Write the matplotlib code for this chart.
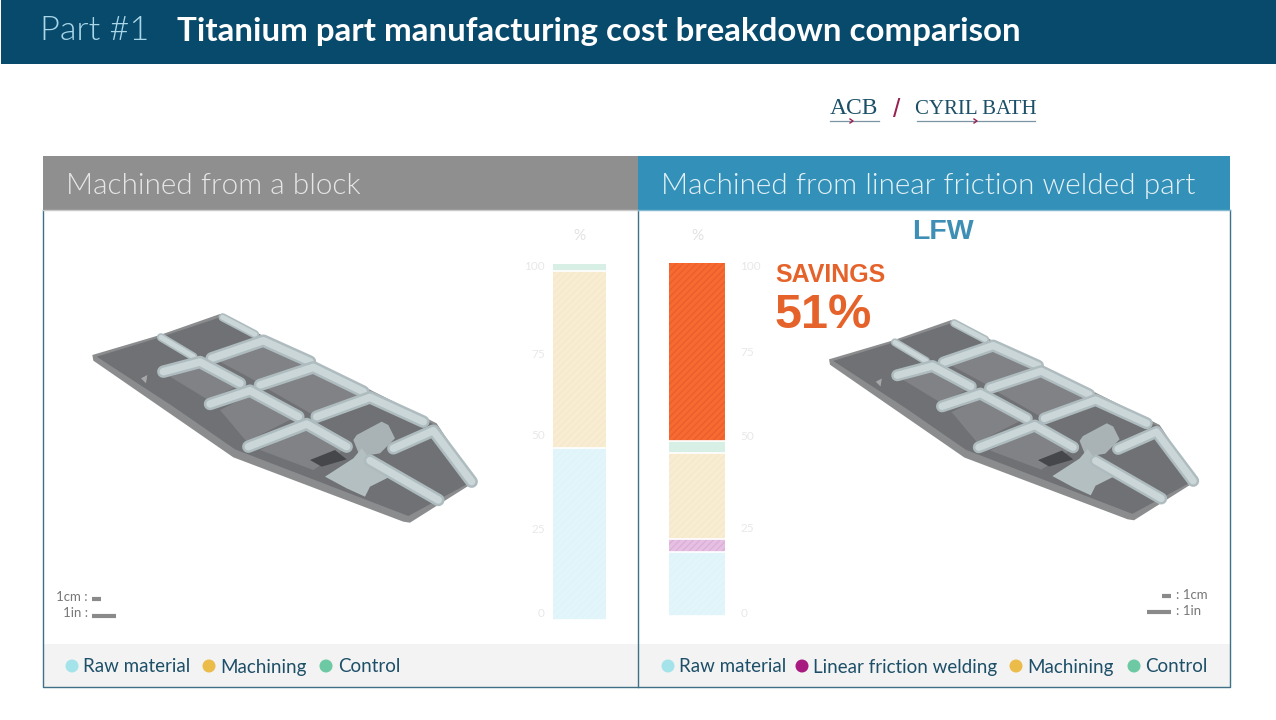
import matplotlib
matplotlib.use('Agg')
import matplotlib.pyplot as plt
from matplotlib.patches import Polygon, Rectangle, Circle

W, H = 1276, 720

# bar values, percent
block_names = ['Raw material', 'Machining', 'Control']
block_values = [48.3, 49.7, 2.0]
block_colors = ['#e1f5fa', '#f8ecd2', '#d8efe6']
block_hatch = ['#dff3f8', '#f6e8cb', '#d8efe6']

lfw_names = ['Raw material', 'Linear friction welding', 'Machining', 'Control', 'Savings']
lfw_values = [18.0, 3.7, 24.4, 3.4, 50.5]
lfw_colors = ['#e1f5fa', '#e6c0e2', '#f8ecd2', '#d8efe6', '#f96a30']
lfw_hatch = ['#dff3f8', '#dcaed8', '#f6e8cb', '#d8efe6', '#e8602e']

tick_labels = ['0', '25', '50', '75', '100']
block_ticks = [2, 25.8, 52, 75, 99.7]
lfw_ticks = [1, 25, 51, 75, 99.4]

plt.rcParams['font.family'] = ['Lato', 'DejaVu Sans']
plt.rcParams['hatch.linewidth'] = 1.0

fig = plt.figure(figsize=(W / 100, H / 100), dpi=100, facecolor='white')
bg = fig.add_axes([0, 0, 1, 1])
bg.set_xlim(0, W)
bg.set_ylim(H, 0)
bg.axis('off')


def box(x0, y0, x1, y1, color, **kw):
    bg.add_patch(Rectangle((x0, y0), x1 - x0, y1 - y0, facecolor=color, edgecolor='none', **kw))


# banner
box(1, 0, W, 64, '#074a6b')
bg.text(40, 31, 'Part #1', color='#a9d6e8', fontsize=24.7, fontweight=300, va='center')
bg.text(177, 31, 'Titanium part manufacturing cost breakdown comparison', color='white',
        fontsize=23.8, fontweight='bold', va='center')

# logos
bg.text(854, 109, 'ACB', color='#1c4f68', fontsize=17, family='Liberation Serif', ha='center', va='center')
bg.text(976, 109, 'CYRIL BATH', color='#1c4f68', fontsize=15, family='Liberation Serif', ha='center', va='center')
bg.text(897, 110, '/', color='#97204f', fontsize=19, family='Liberation Sans', ha='center', va='center')
bg.plot([830, 879], [121, 121], color='#7d95a3', lw=0.9)
bg.plot([917, 1035], [121, 121], color='#7d95a3', lw=0.9)
bg.plot([850, 853, 850], [119, 121, 123], color='#97204f', lw=1)
bg.plot([974, 977, 974], [119, 121, 123], color='#97204f', lw=1)

# panels
box(43, 156, 638, 210, '#8f8f8f')
box(638, 156, 1230, 210, '#3391b9')
box(43, 644, 638, 687, '#f3f3f3')
box(638, 644, 1230, 687, '#f3f3f3')
bg.plot([43, 43, 1230, 1230], [210, 687, 687, 210], color='#3f7186', lw=1)
bg.plot([638, 638], [210, 687], color='#3f7186', lw=1)
bg.plot([43, 638], [210, 210], color='#c8c8c8', lw=1)
bg.plot([638, 1230], [210, 210], color='#7fb8d0', lw=1)
bg.text(66, 186, 'Machined from a block', color='#e6e6e6', fontsize=21.4, fontweight=300, va='center')
bg.text(661, 186, 'Machined from linear friction welded part', color='#e4f1f6', fontsize=21.4,
        fontweight=300, va='center')


def draw_part(x0, y0, s):
    # outline, crop coordinates at 3x
    def pt(pts):
        return [(x / 3 * s + x0, y / 3 * s + y0) for x, y in pts]

    def rib(pts, w=9):
        xs, ys = zip(*pt(pts))
        bg.plot(xs, ys, color='#aebcbf', lw=w * s, solid_capstyle='round', solid_joinstyle='round')
        bg.plot(xs, ys, color='#cbd6d8', lw=w * 0.6 * s, solid_capstyle='round', solid_joinstyle='round')

    bg.add_patch(Polygon(pt([(97, 165), (300, 105), (480, 42), (1130, 370), (1245, 545), (1050, 668),
                             (1030, 665), (520, 472), (100, 182)]), facecolor='#8b8c8e', edgecolor='none'))
    bg.add_patch(Polygon(pt([(110, 170), (300, 112), (480, 52), (1125, 375), (1235, 545), (1045, 648),
                             (525, 448), (340, 320)]), facecolor='#6f7174', edgecolor='none'))
    # pocket floors slightly lighter
    for p in [[(480, 185), (610, 135), (735, 200), (600, 250)],
              [(620, 265), (760, 215), (895, 285), (760, 345)],
              [(330, 230), (420, 200), (530, 260), (445, 300)],
              [(480, 330), (570, 285), (700, 355), (560, 425)],
              [(600, 450), (735, 385), (850, 450), (760, 510)]]:
        bg.add_patch(Polygon(pt(p), facecolor='#808285', edgecolor='none'))
    bg.add_patch(Polygon(pt([(750, 480), (825, 450), (860, 478), (785, 500)]), facecolor='#45474a', edgecolor='none'))

    rib([(488, 52), (585, 103)], 6)
    rib([(303, 112), (400, 170)], 6)
    rib([(455, 175), (610, 122), (750, 185)])
    rib([(600, 255), (760, 202), (910, 275)])
    rib([(770, 350), (930, 292), (1090, 365)])
    rib([(310, 215), (420, 186), (540, 250)])
    rib([(450, 312), (570, 272), (715, 350)])
    rib([(565, 440), (740, 372), (860, 440)])
    rib([(1000, 445), (1120, 392), (1235, 545)])
    rib([(930, 482), (1135, 600)])
    bg.add_patch(Polygon(pt([(880, 420), (890, 405), (965, 365), (985, 375), (1005, 415), (960, 460), (900, 470)]),
                         facecolor='#a9b3b6', edgecolor='none'))
    bg.add_patch(Polygon(pt([(795, 530), (880, 475), (905, 445), (925, 470), (1000, 525), (930, 560),
                             (915, 590), (860, 565)]), facecolor='#b4bfc2', edgecolor='none'))
    # small fixing lug on the left
    bg.add_patch(Polygon(pt([(243, 235), (262, 225), (258, 250)]), facecolor='#a5a7a9', edgecolor='none'))


draw_part(60, 300, 1.0)
draw_part(798, 306.5, 0.96)

# scale marks
bg.text(88, 597, '1cm :', color='#777777', fontsize=9.5, ha='right', va='center')
bg.text(88, 613, '1in :', color='#777777', fontsize=9.5, ha='right', va='center')
bg.plot([92, 101], [599, 599], color='#8a8a8a', lw=3, solid_capstyle='butt')
bg.plot([92, 116], [615.5, 615.5], color='#8a8a8a', lw=3, solid_capstyle='butt')
bg.text(1176, 595, ': 1cm', color='#777777', fontsize=9.5, va='center')
bg.text(1176, 611, ': 1in', color='#777777', fontsize=9.5, va='center')
bg.plot([1162, 1171], [596, 596], color='#8a8a8a', lw=3, solid_capstyle='butt')
bg.plot([1147, 1171], [612, 612], color='#8a8a8a', lw=3, solid_capstyle='butt')

# legends
legend_color = '#1d4f68'
dot_colors = {'Raw material': '#a5e3ea', 'Machining': '#ecbc4a', 'Control': '#6cc9a3',
              'Linear friction welding': '#a81a80'}
for label, dot_x, text_x in [('Raw material', 72, 83), ('Machining', 209, 220), ('Control', 326, 338),
                             ('Raw material', 668, 679), ('Linear friction welding', 802, 813),
                             ('Machining', 1016, 1027), ('Control', 1134, 1145)]:
    bg.add_patch(Circle((dot_x, 666), 6.5, facecolor=dot_colors[label], edgecolor='none'))
    bg.text(text_x, 667, label, color=legend_color, fontsize=13.5, va='center')

# callouts
bg.text(775, 275, 'SAVINGS', color='#e5632a', fontsize=18, fontweight='bold', family='Liberation Sans', va='center')
bg.text(775, 315, '51%', color='#e5632a', fontsize=35, fontweight='bold', family='Liberation Sans', va='center')
bg.text(943, 232, 'LFW', color='#3e8fb5', fontsize=20.5, fontweight='bold', family='Liberation Sans', ha='center', va='center')


def stacked(rect, values, colors, hatches, ticks, side, pct_x):
    x0, y0, x1, y1 = rect
    ax = fig.add_axes([x0 / W, 1 - y1 / H, (x1 - x0) / W, (y1 - y0) / H])
    ax.patch.set_alpha(0)
    bottom = 0
    for v, c, h in zip(values, colors, hatches):
        ax.bar(0, v, width=1, bottom=bottom, color=c, edgecolor='none')
        ax.bar(0, v, width=1, bottom=bottom, facecolor='none', edgecolor=h, hatch='/////', linewidth=0)
        # thin white gap between segments
        ax.axhline(bottom, color='white', lw=1.2)
        bottom += v
    ax.set_xlim(-0.5, 0.5)
    ax.set_ylim(0, 100)
    ax.set_xticks([])
    ax.set_yticks(ticks)
    ax.set_yticklabels(tick_labels)
    if side == 'right':
        ax.yaxis.tick_right()
    ax.tick_params(axis='y', length=0, pad=6 if side == 'left' else 11, labelsize=8.5, labelcolor='#e8e8e8')
    for s in ax.spines.values():
        s.set_visible(False)
    bg.text(pct_x, 236, '%', color='#e2e2e2', fontsize=11, ha='center', va='center')


stacked((553, 264, 606, 620), block_values, block_colors, block_hatch, block_ticks, 'left', 579)
stacked((669, 263, 725, 616), lfw_values, lfw_colors, lfw_hatch, lfw_ticks, 'right', 697)

fig.savefig('out.png', dpi=100)
